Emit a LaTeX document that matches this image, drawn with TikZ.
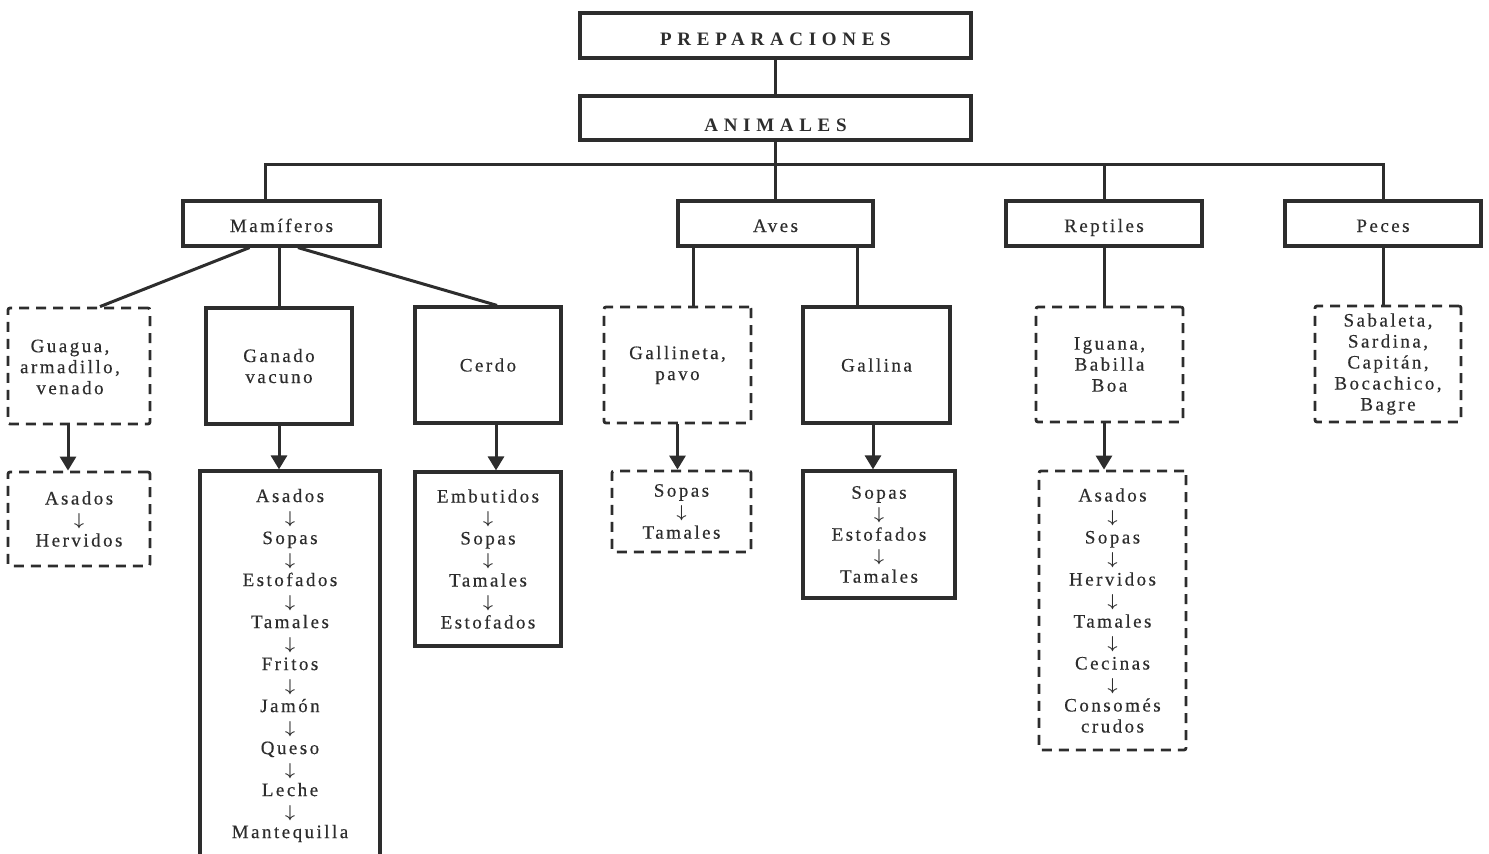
\documentclass[tikz,border=0pt]{standalone}
\usepackage{fontspec}
\setmainfont{Liberation Serif}
\newfontfamily\itemfont[LetterSpace=13,FakeBold=0.4]{Liberation Serif}
\newfontfamily\headfont[LetterSpace=30]{Liberation Serif}
\usetikzlibrary{arrows.meta,calc}
\definecolor{ink}{RGB}{45,45,45}
\newcommand{\dn}{{\fontsize{18}{21}\selectfont\boldmath$\downarrow$}}

\tikzset{
  txt/.style={text=ink, align=center, inner sep=0pt,
              font=\itemfont\fontsize{19}{21}\selectfont},
  solidbox/.style={txt, draw=ink, line width=3.2pt},
  dashbox/.style={txt, draw=ink, line width=2.8pt,
                  dash pattern=on 10pt off 7pt, rounded corners=2pt},
  classbox/.style={solidbox, text height=19pt, text depth=2pt},
  headbox/.style={solidbox, font=\headfont\bfseries\fontsize{19}{21}\selectfont},
  link/.style={draw=ink, line width=3pt},
  flow/.style={link, -{Triangle[length=14pt,width=16pt]}},
  sz/.style 2 args={minimum width=#1, minimum height=#2}
}

\begin{document}
\begin{tikzpicture}[x=1pt,y=-1pt]
\useasboundingbox (0,0) rectangle (1489,854);

% top levels
\node[headbox, sz={391}{45}, text height=21pt, text depth=2pt] (prep) at (775.5,35.5) {PREPARACIONES};
\node[headbox, sz={391}{44}, text height=27pt, text depth=1pt] (anim) at (775.5,118) {ANIMALES};

% classes
\node[classbox, sz={197}{45}] (mam)   at (281.5,223.5) {Mamíferos};
\node[classbox, sz={195}{45}] (aves)  at (775.5,223.5) {Aves};
\node[classbox, sz={196}{45}] (rept)  at (1104,223.5)  {Reptiles};
\node[classbox, sz={196}{45}] (peces) at (1383,223.5)  {Peces};

% mammals
\node[dashbox, sz={142}{116}] (guagua) at (79,366) {};
\node[txt] (guaguatxt) at (70,367) {Guagua,\\armadillo,\\venado};
\node[dashbox, sz={142}{94}] (asherv) at (79,519) {Asados\\\dn\\Hervidos};
\node[solidbox, sz={146}{116}] (ganado) at (279,366) {Ganado\\vacuno};
\node[solidbox, sz={180}{389}] (ganlist) at (290,665.5)
  {Asados\\\dn\\Sopas\\\dn\\Estofados\\\dn\\Tamales\\\dn\\Fritos\\\dn\\Jamón\\\dn\\Queso\\\dn\\Leche\\\dn\\Mantequilla};
\node[solidbox, sz={146}{116}] (cerdo) at (488,365) {Cerdo};
\node[solidbox, sz={146}{174}] (cerdolist) at (488,559)
  {Embutidos\\\dn\\Sopas\\\dn\\Tamales\\\dn\\Estofados};

% birds
\node[dashbox, sz={147}{116}] (gallineta) at (677.5,365) {Gallineta,\\pavo};
\node[dashbox, sz={139}{81}] (galtlist) at (681.5,511.5) {Sopas\\\dn\\Tamales};
\node[solidbox, sz={147}{116}] (gallina) at (876.5,365) {Gallina};
\node[solidbox, sz={152}{127}] (gallist) at (879,534.5) {Sopas\\\dn\\Estofados\\\dn\\Tamales};

% reptiles
\node[dashbox, sz={147}{115}] (iguana) at (1109.5,364.5) {Iguana,\\Babilla\\Boa};
\node[dashbox, sz={147}{279}] (reptlist) at (1112.5,610.5)
  {Asados\\\dn\\Sopas\\\dn\\Hervidos\\\dn\\Tamales\\\dn\\Cecinas\\\dn\\Consomés\\crudos};

% fish
\node[dashbox, sz={146}{116}] (pecesbox) at (1388,364)
  {Sabaleta,\\Sardina,\\Capitán,\\Bocachico,\\Bagre};

% trunk and bus
\coordinate (busL) at (265,164);
\coordinate (busR) at (1383,164);
\draw[link] (prep) -- (anim);
\draw[link] (anim.south) -- (aves.north);
\draw[link] (mam.north -| busL) -- (busL) -- (busR) -- (peces.north -| busR);
\draw[link] (rept.north) -- (rept.north |- busL);

% mammal branches
\draw[link] ($(mam.south)+(-32,0)$) -- ($(guagua.north)+(21,0)$);
\draw[link] (ganado.north |- mam.south) -- (ganado.north);
\draw[link] ($(mam.south)+(16.5,0)$) -- ($(cerdo.north)+(9,0)$);
\draw[flow] ([xshift=-11pt]guagua.south) -- ([xshift=-11pt]asherv.north);
\draw[flow] (ganado.south) -- (ganado.south |- ganlist.north);
\draw[flow] ([xshift=8pt]cerdo.south) -- ([xshift=8pt]cerdolist.north);

% bird branches
\coordinate (avL) at (693,246);
\coordinate (avR) at (857,246);
\draw[link] (avL) -- (avL |- gallineta.north);
\draw[link] (avR) -- (avR |- gallina.north);
\draw[flow] (gallineta.south) -- (gallineta.south |- galtlist.north);
\draw[flow] ([xshift=-3.5pt]gallina.south) -- ([xshift=-6pt]gallist.north);

% reptile and fish branches
\draw[link] (rept.south) -- (rept.south |- iguana.north);
\draw[flow] ([xshift=-5.5pt]iguana.south) -- ([xshift=-8.5pt]reptlist.north);
\draw[link] (peces.south) -- (peces.south |- pecesbox.north);
\end{tikzpicture}
\end{document}
